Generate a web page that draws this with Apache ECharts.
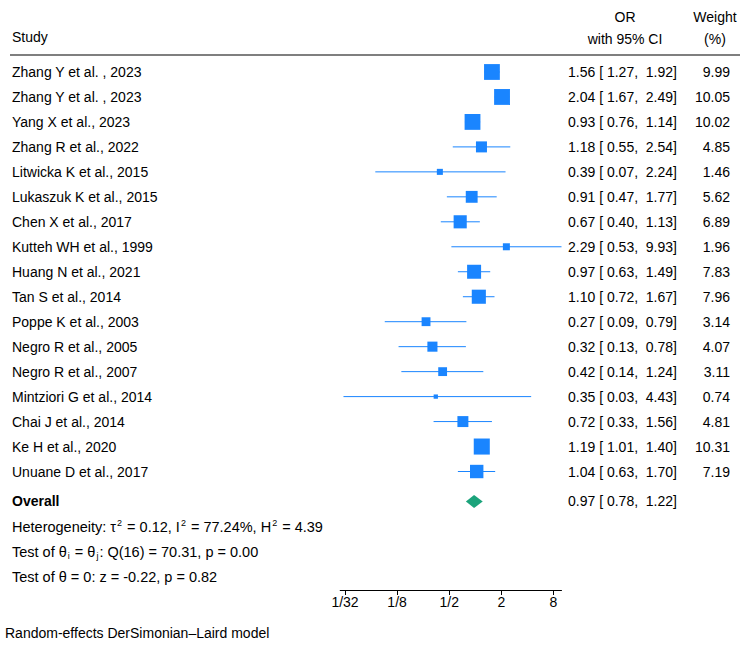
<!DOCTYPE html>
<html>
<head>
<meta charset="utf-8">
<script src="https://cdn.jsdelivr.net/npm/echarts@6/dist/echarts.min.js"></script>
<style>
html,body{margin:0;padding:0;background:#fff;}
#chart{width:754px;height:646px;}
</style>
</head>
<body>
<div id="chart"></div>
<script>
// ---- data ----
const studies = [
  'Zhang Y et al. , 2023', 'Zhang Y et al. , 2023', 'Yang X et al., 2023', 'Zhang R et al., 2022',
  'Litwicka K et al., 2015', 'Lukaszuk K et al., 2015', 'Chen X et al., 2017', 'Kutteh WH et al., 1999',
  'Huang N et al., 2021', 'Tan S et al., 2014', 'Poppe K et al., 2003', 'Negro R et al., 2005',
  'Negro R et al., 2007', 'Mintziori G et al., 2014', 'Chai J et al., 2014', 'Ke H et al., 2020',
  'Unuane D et al., 2017'
];
const orValues = [1.56, 2.04, 0.93, 1.18, 0.39, 0.91, 0.67, 2.29, 0.97, 1.10, 0.27, 0.32, 0.42, 0.35, 0.72, 1.19, 1.04];
const ciLower  = [1.27, 1.67, 0.76, 0.55, 0.07, 0.47, 0.40, 0.53, 0.63, 0.72, 0.09, 0.13, 0.14, 0.03, 0.33, 1.01, 0.63];
const ciUpper  = [1.92, 2.49, 1.14, 2.54, 2.24, 1.77, 1.13, 9.93, 1.49, 1.67, 0.79, 0.78, 1.24, 4.43, 1.56, 1.40, 1.70];
const weights  = [9.99, 10.05, 10.02, 4.85, 1.46, 5.62, 6.89, 1.96, 7.83, 7.96, 3.14, 4.07, 3.11, 0.74, 4.81, 10.31, 7.19];
const overall = { label: 'Overall', or: 0.97, lo: 0.78, hi: 1.22 };
const tickValues = [1/32, 1/8, 1/2, 2, 8];
const tickLabels = ['1/32', '1/8', '1/2', '2', '8'];
const axisMinValue = 0.0275, axisMaxValue = 9.93;

// ---- chart ----
const FONT = '"Liberation Sans", Arial, Helvetica, sans-serif';
const BLUE = '#1a85ff';
const GREEN = '#1ba37b';
const OVERALL_ROW = 17.2;

const log2 = v => Math.log(v) / Math.LN2;
const ciText = (o, l, h) => o.toFixed(2) + ' [ ' + l.toFixed(2) + ',  ' + h.toFixed(2) + ']';

const studyData = orValues.map((o, i) => [log2(o), i, log2(ciLower[i]), log2(ciUpper[i]), weights[i]]);
const tickLogs = tickValues.map(log2);
const tickLabelMap = {};
tickLogs.forEach((t, i) => { tickLabelMap[t.toFixed(6)] = tickLabels[i]; });

const chart = echarts.init(document.getElementById('chart'), null, { renderer: 'svg' });

const textStyleBase = { fontFamily: FONT, fontSize: 14, fill: '#000' };
const statStyle = { fontFamily: FONT, fontSize: 14.5, fill: '#000', verticalAlign: 'middle' };

chart.setOption({
  animation: false,
  backgroundColor: '#fff',
  grid: { left: 340.2, right: 192.5, top: 59.5, bottom: 56, containLabel: false },
  xAxis: {
    type: 'value',
    min: log2(axisMinValue),
    max: log2(axisMaxValue),
    splitLine: { show: false },
    axisLine: { show: true, onZero: false, lineStyle: { color: '#000', width: 1 } },
    axisTick: { show: true, customValues: tickLogs, length: 5, lineStyle: { color: '#000' } },
    axisLabel: {
      show: true, customValues: tickLogs, margin: 5,
      color: '#000', fontFamily: FONT, fontSize: 14,
      formatter: v => tickLabelMap[Number(v).toFixed(6)] || ''
    }
  },
  yAxis: {
    type: 'value', inverse: true, min: -0.5, max: 20.745,
    show: false
  },
  graphic: [
    { type: 'text', left: 12, top: 30, style: Object.assign({ text: 'Study' }, textStyleBase) },
    { type: 'text', x: 625, y: 17, style: Object.assign({ text: 'OR', align: 'center', verticalAlign: 'middle' }, textStyleBase) },
    { type: 'text', x: 625, y: 39, style: Object.assign({ text: 'with 95% CI', align: 'center', verticalAlign: 'middle' }, textStyleBase) },
    { type: 'text', x: 715, y: 17, style: Object.assign({ text: 'Weight', align: 'center', verticalAlign: 'middle' }, textStyleBase) },
    { type: 'text', x: 715, y: 39, style: Object.assign({ text: '(%)', align: 'center', verticalAlign: 'middle' }, textStyleBase) },
    { type: 'line', shape: { x1: 10, y1: 55, x2: 740, y2: 55 }, style: { stroke: '#000', lineWidth: 1.2 } },
    { type: 'text', x: 12, y: 527, style: Object.assign({
        text: 'Heterogeneity: τ{sup|2} = 0.12, I{sup|2} = 77.24%, H{sup|2} = 4.39',
        rich: { sup: { fontFamily: FONT, fontSize: 9, verticalAlign: 'top', lineHeight: 17, padding: [0, 1, 0, 1] } }
    }, statStyle) },
    { type: 'text', x: 12, y: 552, style: Object.assign({
        text: 'Test of θ{sub|i} = θ{sub|j}: Q(16) = 70.31, p = 0.00',
        rich: { sub: { fontFamily: FONT, fontSize: 9, verticalAlign: 'bottom', lineHeight: 17, padding: [0, 1, 0, 1] } }
    }, statStyle) },
    { type: 'text', x: 12, y: 577, style: Object.assign({ text: 'Test of θ = 0: z = -0.22, p = 0.82' }, statStyle) },
    { type: 'text', x: 5, y: 633, style: Object.assign({ text: 'Random-effects DerSimonian–Laird model', verticalAlign: 'middle' }, textStyleBase) }
  ],
  series: [
    {
      type: 'custom',
      name: 'studies',
      data: studyData,
      clip: false,
      renderItem: function (params, api) {
        const row = api.value(1);
        const c = api.coord([api.value(0), row]);
        const l = api.coord([api.value(2), row]);
        const h = api.coord([api.value(3), row]);
        const side = 5 * Math.sqrt(api.value(4));
        const i = params.dataIndex;
        return {
          type: 'group',
          children: [
            { type: 'line', shape: { x1: l[0], y1: c[1], x2: h[0], y2: c[1] }, style: { stroke: BLUE, lineWidth: 1 } },
            { type: 'rect', shape: { x: c[0] - side / 2, y: c[1] - side / 2, width: side, height: side }, style: { fill: BLUE } },
            { type: 'text', x: 12, y: c[1], style: { text: studies[i], fontFamily: FONT, fontSize: 14, fill: '#000', verticalAlign: 'middle' } },
            { type: 'text', x: 568, y: c[1], style: { text: ciText(orValues[i], ciLower[i], ciUpper[i]), fontFamily: FONT, fontSize: 14, fill: '#000', verticalAlign: 'middle' } },
            { type: 'text', x: 730, y: c[1], style: { text: weights[i].toFixed(2), fontFamily: FONT, fontSize: 14, fill: '#000', align: 'right', verticalAlign: 'middle' } }
          ]
        };
      }
    },
    {
      type: 'custom',
      name: 'overall',
      data: [[log2(overall.or), OVERALL_ROW, log2(overall.lo), log2(overall.hi)]],
      clip: false,
      renderItem: function (params, api) {
        const row = api.value(1);
        const c = api.coord([api.value(0), row]);
        const l = api.coord([api.value(2), row]);
        const h = api.coord([api.value(3), row]);
        const hh = 6.5;
        return {
          type: 'group',
          children: [
            { type: 'polygon', shape: { points: [[l[0], c[1]], [c[0], c[1] - hh], [h[0], c[1]], [c[0], c[1] + hh]] }, style: { fill: GREEN } },
            { type: 'text', x: 12, y: c[1], style: { text: overall.label, fontFamily: FONT, fontSize: 14, fontWeight: 'bold', fill: '#000', verticalAlign: 'middle' } },
            { type: 'text', x: 568, y: c[1], style: { text: ciText(overall.or, overall.lo, overall.hi), fontFamily: FONT, fontSize: 14, fill: '#000', verticalAlign: 'middle' } }
          ]
        };
      }
    }
  ]
});
</script>
</body>
</html>
